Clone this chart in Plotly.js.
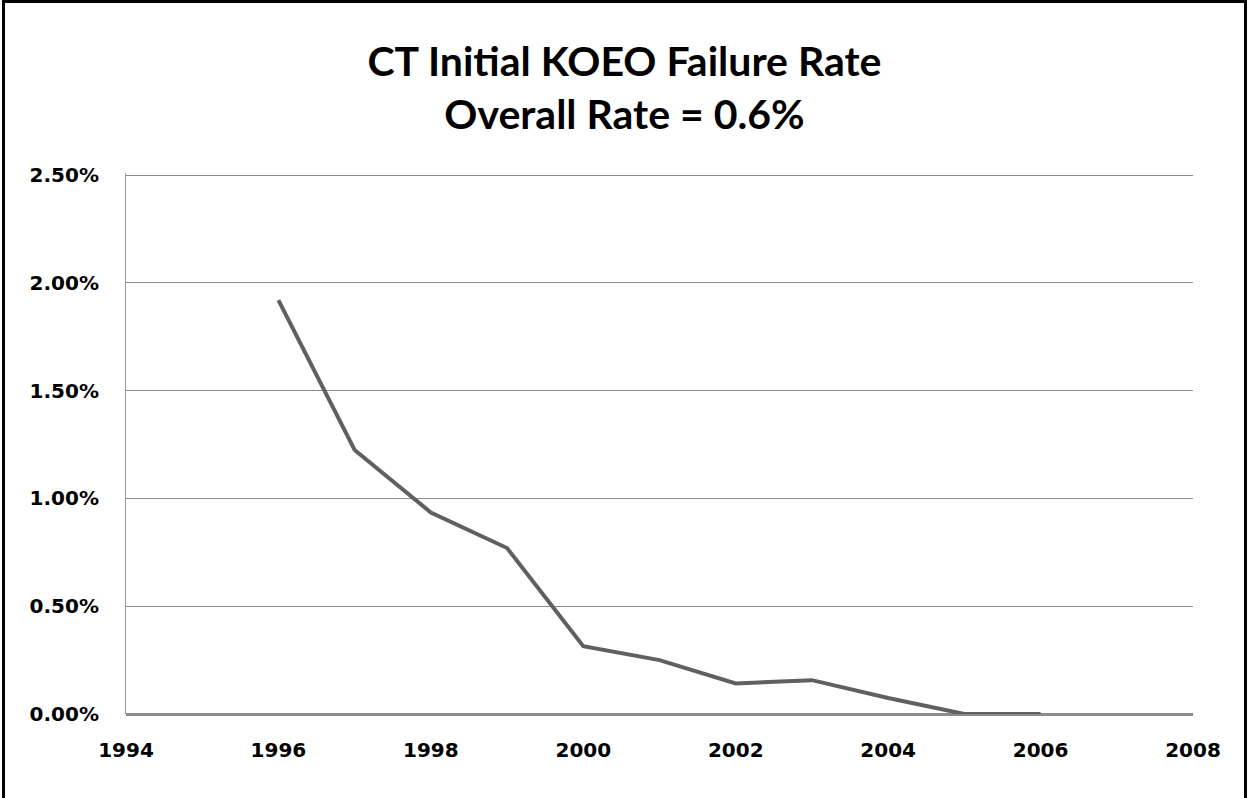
<!DOCTYPE html>
<html>
<head>
<meta charset="utf-8">
<script src="https://cdn.plot.ly/plotly-3.0.1.min.js"></script>
<style>
  body { margin: 0; background: #fff; }
  #plot { position: absolute; left: 0; top: 0; width: 1249px; height: 798px; }
  #frame {
    position: absolute; left: 2px; top: 0; width: 1245px; height: 798px;
    box-sizing: border-box; border: 3px solid #000; border-bottom: none;
    pointer-events: none;
  }
</style>
</head>
<body>
<div id="plot"></div>
<div id="frame"></div>
<script>
// years and initial KOEO failure rate (fraction)
const years = [1996, 1997, 1998, 1999, 2000, 2001, 2002, 2003, 2004, 2005, 2006];
const failRate = [0.0192, 0.01225, 0.00935, 0.0077, 0.00315, 0.0025, 0.00142, 0.00157, 0.00074, 0.0, 0.0];

const xTicks = [1994, 1996, 1998, 2000, 2002, 2004, 2006, 2008];
const yTicks = [0, 0.005, 0.01, 0.015, 0.02, 0.025];
const yTickText = ['0.00%', '0.50%', '1.00%', '1.50%', '2.00%', '2.50%'];

const titleLines = ['CT Initial KOEO Failure Rate', 'Overall Rate = 0.6%'];

const rateTrace = {
    x: years,
    y: failRate,
    type: 'scatter',
    mode: 'lines',
    line: { color: '#606060', width: 4 },
    hoverinfo: 'x+y'
};

const tickFont = { family: 'DejaVu Sans, sans-serif', size: 20, color: '#000', weight: 'bold' };

const layout = {
    width: 1249,
    height: 798,
    margin: { l: 126, r: 56, t: 173, b: 84 },
    paper_bgcolor: '#fff',
    plot_bgcolor: '#fff',
    showlegend: false,
    title: {
        text: titleLines.join('<br>'),
        font: { family: 'Lato, sans-serif', size: 41, color: '#000', weight: 'bold' },
        x: 0.5,
        xanchor: 'center',
        y: 0.905,
        yanchor: 'top'
    },
    xaxis: {
        range: [1994, 2008],
        tickvals: xTicks,
        ticktext: xTicks.map(String),
        tickfont: tickFont,
        showgrid: false,
        zeroline: false,
        showline: false,
        ticks: 'outside',
        ticklen: 18,
        tickcolor: 'rgba(0,0,0,0)'
    },
    yaxis: {
        // a bit above 2.5% so the top gridline is still drawn
        range: [0, 0.0251],
        tickvals: yTicks,
        ticktext: yTickText,
        tickfont: tickFont,
        showgrid: true,
        gridcolor: '#8c8c8c',
        gridwidth: 1,
        zeroline: true,
        zerolinecolor: '#8c8c8c',
        zerolinewidth: 3,
        showline: true,
        linecolor: '#999',
        linewidth: 1,
        ticks: 'outside',
        ticklen: 22,
        tickcolor: 'rgba(0,0,0,0)'
    }
};

Plotly.newPlot('plot', [rateTrace], layout, { displayModeBar: false, staticPlot: true });
</script>
</body>
</html>
